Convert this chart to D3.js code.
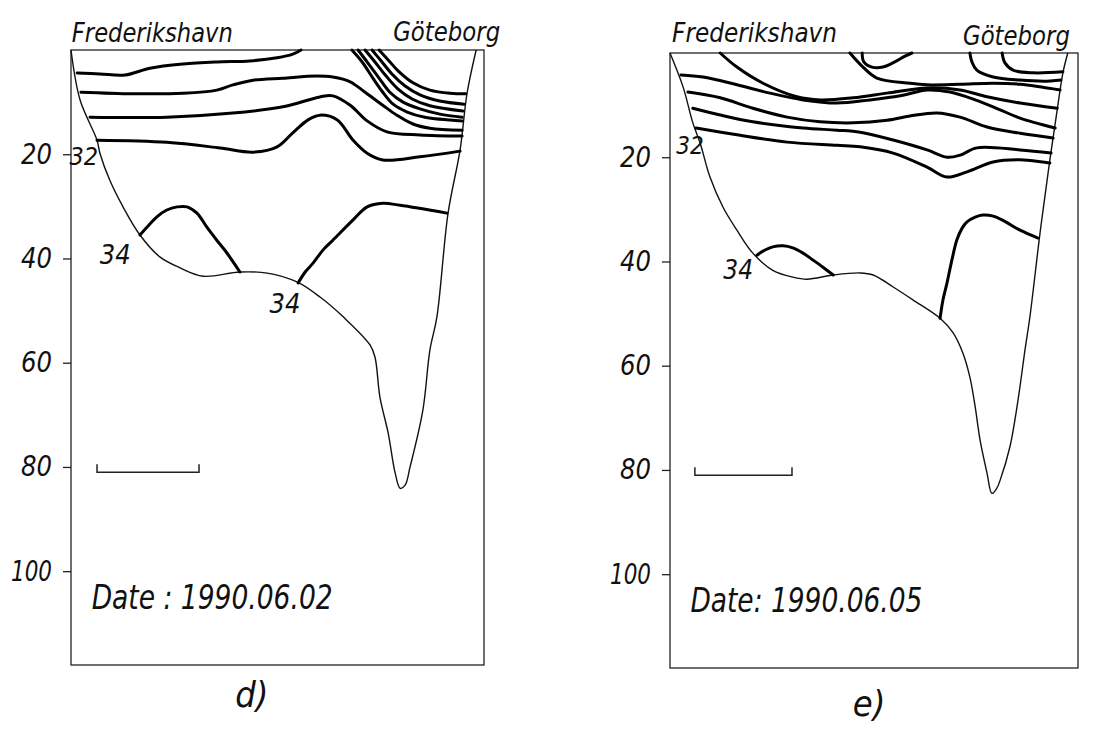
<!DOCTYPE html>
<html>
<head>
<meta charset="utf-8">
<script src="https://cdn.jsdelivr.net/npm/d3@7"></script>
<style>
  body { margin: 0; background: #fff; }
  svg text { font-family: "DejaVu Sans Condensed", "DejaVu Sans", sans-serif; font-style: oblique; font-weight: 300; fill: #111; }
</style>
</head>
<body>
<div id="chart"></div>
<script>
// Depth axis (m) and frame
var depthTicks = [20, 40, 60, 80, 100];
var boxDepth = 118;
var sectionLength = 100; // distance along the section, relative units

var stations = ["Frederikshavn", "Göteborg"];
var dates = ["Date : 1990.06.02", "Date: 1990.06.05"];
var captions = ["d)", "e)"];

// Bottom profile, [distance, depth]
var bottomD = [[0,0],[2.2,9.6],[6.3,17.3],[7.0,19.8],[9.4,25.0],[12.6,30.1],[16.7,35.5],[21.5,39.7],
  [26.4,41.8],[32.0,43.4],[40.9,42.6],[47.5,42.8],[54.7,44.5],[60.3,47.4],[65.9,51.2],[72.4,56.6],
  [73.6,58.9],[74.8,66.6],[76.8,73.5],[78.5,81.2],[79.7,84.1],[80.9,83.5],[82.1,80.0],[85.2,69.1],
  [86.9,57.6],[88.6,51.2],[91.3,31.3],[94.2,19.2],[95.9,8.3],[98.1,0]];

var bottomE = [[0,0],[3.2,6.5],[5.6,13.4],[7.4,17.3],[9.8,23.8],[13.0,29.6],[16.4,34.0],[20.3,38.4],
  [25.2,41.7],[30.1,43.0],[33.6,43.4],[40.0,42.6],[46.6,42.2],[49.8,42.6],[54.7,44.9],[59.6,47.4],
  [66.2,50.9],[69.4,53.7],[71.8,57.6],[73.5,62.2],[74.8,67.9],[76.0,74.3],[77.7,80.6],[78.9,84.5],
  [80.1,83.5],[80.9,82.0],[83.3,75.6],[85.3,66.6],[87.0,57.0],[88.2,50.7],[90.7,34.5],[93.1,20.5],
  [94.9,10.9],[96.3,3.8],[97.5,0]];

// Isohalines, each a list of [distance, depth]
var contoursD = [
  [[1.5,4.4],[7,4.6],[13.1,4.8],[19.1,3.5],[27.1,2.7],[35.3,2.3],[43.3,2.1],[49.9,1.5],[53.7,0.8],[55.7,0]],
  [[2.4,8.1],[15.0,8.4],[27.1,8.3],[35.3,7.7],[39.2,6.7],[44.1,5.8],[51.3,5.4],[59.6,5.0],[63.4,5.2],
   [67.6,6.1],[71.2,8.1],[75.5,10.6],[78.9,12.5],[82.8,14.2],[86.9,15.0],[94.7,15.4]],
  [[4.6,12.9],[23.2,12.9],[39.2,12.1],[51.3,10.9],[60.3,9.0],[63.4,8.8],[67.6,10.6],[71.7,13.6],
   [76.5,15.7],[84.5,16.3],[94.7,16.5]],
  [[6.3,17.3],[23.2,17.7],[36.1,18.8],[44.1,19.6],[49.9,18.6],[53.7,15.9],[57.4,13.4],[60.3,12.5],
   [64.4,13.4],[68.3,17.3],[71.7,19.8],[75.5,21.1],[84.5,20.5],[94.2,19.4]],
  [[68.0,0],[70.5,2.3],[73.1,5.4],[75.5,8.1],[78.0,10.4],[81.4,11.9],[85.7,12.9],[94.7,13.6]],
  [[69.5,0],[71.9,2.5],[74.6,5.4],[77.2,8.1],[80.4,10.0],[84.5,11.3],[89.3,12.3],[94.7,12.9]],
  [[71.2,0],[73.6,2.3],[76.3,5.0],[79.2,7.5],[82.6,9.4],[86.9,10.7],[94.9,11.7]],
  [[72.9,0],[75.1,2.1],[77.7,4.6],[80.9,6.9],[84.5,8.6],[89.3,9.8],[95.2,10.4]],
  [[74.6,0],[76.8,1.9],[79.2,4.0],[82.8,6.3],[86.9,7.7],[91.8,8.3],[95.6,8.4]],
  [[16.7,35.5],[19.1,33.4],[20.8,32.0],[23.2,30.7],[25.7,30.1],[28.1,30.1],[30.5,31.3],[32.9,34.0],
   [35.3,36.5],[37.8,39.0],[40.9,42.6]],
  [[55.0,44.7],[56.7,42.6],[58.6,40.9],[61.0,38.4],[63.4,36.5],[68.3,32.6],[71.7,30.1],[75.5,29.4],
   [79.7,29.8],[91.0,31.3]]
];

var contoursE = [
  [[12.3,0],[16.4,2.7],[22.8,5.8],[31.1,8.4],[36.8,9.0],[44.9,8.6],[53.2,7.7],[63.0,6.7],[71.1,7.1],
   [77.7,8.4],[85.8,9.6],[94.9,10.6]],
  [[2.7,4.2],[8.1,4.6],[16.4,6.1],[24.5,7.7],[32.6,9.0],[40.9,9.6],[49.0,9.0],[57.1,8.1],[63.0,7.1],
   [68.6,7.5],[74.8,9.0],[80.9,10.9],[85.8,12.5],[94.4,14.4]],
  [[4.4,7.5],[12.3,8.6],[20.3,10.6],[28.7,12.3],[36.8,13.2],[44.9,13.4],[53.2,12.9],[58.8,12.1],
   [65.4,11.5],[71.1,12.3],[77.7,14.2],[85.8,15.4],[93.9,16.3]],
  [[5.6,10.6],[12.3,11.9],[20.3,13.2],[32.6,14.4],[40.9,14.8],[46.6,15.2],[54.7,16.7],[63.0,18.6],
   [67.9,20.0],[71.1,19.6],[75.2,18.2],[85.8,18.6],[93.4,19.2]],
  [[6.4,14.4],[16.4,15.7],[28.7,17.1],[40.9,17.7],[46.6,18.0],[54.7,19.2],[63.0,21.9],[67.9,23.8],
   [72.8,22.8],[79.2,20.9],[85.8,20.5],[93.1,21.1]],
  [[44.1,0],[47.3,2.7],[50.7,4.8],[58.8,5.8],[63.0,6.1],[71.1,6.0],[79.2,5.8],[85.8,6.0],[95.6,7.1]],
  [[47.1,0],[47.5,1.7],[49.5,2.7],[52.2,2.7],[55.1,1.7],[57.6,0.6],[59.3,0]],
  [[73.5,0],[74.0,1.7],[75.2,3.3],[79.2,4.6],[85.8,5.2],[92.4,5.4],[95.8,5.2]],
  [[81.4,0],[82.1,1.9],[84.1,3.3],[89.0,3.8],[96.3,3.6]],
  [[21.3,38.8],[23.3,37.8],[25.2,37.2],[27.7,37.0],[30.1,37.4],[32.6,38.4],[35.0,39.7],[37.5,41.1],[40.0,42.6]],
  [[66.2,50.9],[66.9,47.4],[67.9,44.1],[69.1,39.7],[70.3,35.9],[71.6,33.6],[72.8,32.4],[74.8,31.5],
   [76.7,31.1],[79.2,31.3],[81.6,32.1],[85.8,34.0],[90.2,35.5]]
];

// Contour labels: [text, distance, depth]
var labelsD = [["32", 3.1, 20.3], ["34", 10.7, 39.3], ["34", 51.8, 48.6]];
var labelsE = [["32", 4.9, 17.7], ["34", 16.7, 41.7]];

// Distance scale bar: [from, to, depth]
var scaleBarD = [6.3, 31.0, 81.0];
var scaleBarE = [6.1, 29.9, 81.0];

var width = 1103, height = 731;

// Layout of the two panels (pixels)
var panels = [
  { left: 71, top: 50, width: 413, height: 615, bottom: bottomD, contours: contoursD, labels: labelsD,
    labelSize: [25, 27, 27], bar: scaleBarD, date: dates[0], dateLen: 241, cap: captions[0], capX: 43.8, capY: 707,
    st: [{ x: 0.2, y: 41.5, len: 161 }, { x: 78, y: 41, len: 107 }] },
  { left: 670, top: 53, width: 408, height: 615, bottom: bottomE, contours: contoursE, labels: labelsE,
    labelSize: [24, 26], bar: scaleBarE, date: dates[1], dateLen: 232, cap: captions[1], capX: 48.8, capY: 716,
    st: [{ x: 0.5, y: 42, len: 165 }, { x: 71.8, y: 45, len: 107 }] }
];

var svg = d3.select("#chart").append("svg")
  .attr("width", width)
  .attr("height", height);

panels.forEach(function(p) {
  var x = d3.scaleLinear().domain([0, sectionLength]).range([p.left, p.left + p.width]);
  var y = d3.scaleLinear().domain([0, boxDepth]).range([p.top, p.top + p.height]);
  var line = d3.line()
    .x(function(d) { return x(d[0]); })
    .y(function(d) { return y(d[1]); })
    .curve(d3.curveCatmullRom.alpha(0.5));

  var g = svg.append("g");

  // frame
  g.append("rect")
    .attr("x", x(0)).attr("y", y(0))
    .attr("width", x(sectionLength) - x(0))
    .attr("height", y(boxDepth) - y(0))
    .attr("fill", "none")
    .attr("stroke", "#222")
    .attr("stroke-width", 1.3);

  // depth axis
  var ax = g.append("g")
    .attr("transform", "translate(" + x(0) + ",0)")
    .call(d3.axisLeft(y).tickValues(depthTicks).tickSize(8).tickPadding(11))
    .attr("font-family", null)
    .attr("font-size", null);
  ax.select(".domain").remove();
  ax.selectAll(".tick line").attr("stroke", "#222").attr("stroke-width", 1.3);
  ax.selectAll(".tick text")
    .attr("fill", "#111")
    .attr("textLength", function(d) { return String(d).length > 2 ? 41 : 31; })
    .attr("lengthAdjust", "spacingAndGlyphs")
    .style("font-size", "28px");

  // bottom profile
  g.append("path")
    .datum(p.bottom)
    .attr("d", line)
    .attr("fill", "none")
    .attr("stroke", "#111")
    .attr("stroke-width", 1.4);

  // isohalines
  g.selectAll("path.iso")
    .data(p.contours)
    .enter().append("path")
    .attr("class", "iso")
    .attr("d", line)
    .attr("fill", "none")
    .attr("stroke", "#000")
    .attr("stroke-width", 3)
    .attr("stroke-linecap", "round")
    .attr("stroke-linejoin", "round");

  // contour labels
  g.selectAll("text.lab")
    .data(p.labels)
    .enter().append("text")
    .attr("class", "lab")
    .attr("x", function(d) { return x(d[1]); })
    .attr("y", function(d) { return y(d[2]); })
    .attr("dy", "0.35em")
    .attr("text-anchor", "middle")
    .style("font-size", function(d, i) { return p.labelSize[i] + "px"; })
    .text(function(d) { return d[0]; });

  // scale bar
  var b = p.bar;
  g.append("path")
    .attr("d", "M" + x(b[0]) + "," + (y(b[2]) - 8) + "V" + y(b[2]) + "H" + x(b[1]) + "V" + (y(b[2]) - 8))
    .attr("fill", "none")
    .attr("stroke", "#222")
    .attr("stroke-width", 1.5);

  // station names
  g.selectAll("text.st")
    .data(stations)
    .enter().append("text")
    .attr("class", "st")
    .attr("x", function(d, i) { return x(p.st[i].x); })
    .attr("y", function(d, i) { return p.st[i].y; })
    .attr("textLength", function(d, i) { return p.st[i].len; })
    .attr("lengthAdjust", "spacingAndGlyphs")
    .style("font-size", "26px")
    .text(function(d) { return d; });

  // date
  g.append("text")
    .attr("x", x(5.0))
    .attr("y", y(107.3))
    .attr("textLength", p.dateLen)
    .attr("lengthAdjust", "spacingAndGlyphs")
    .style("font-size", "34px")
    .text(p.date);

  // caption
  g.append("text")
    .attr("x", x(p.capX))
    .attr("y", p.capY)
    .attr("text-anchor", "middle")
    .style("font-size", "36px")
    .text(p.cap);
});
</script>
</body>
</html>
